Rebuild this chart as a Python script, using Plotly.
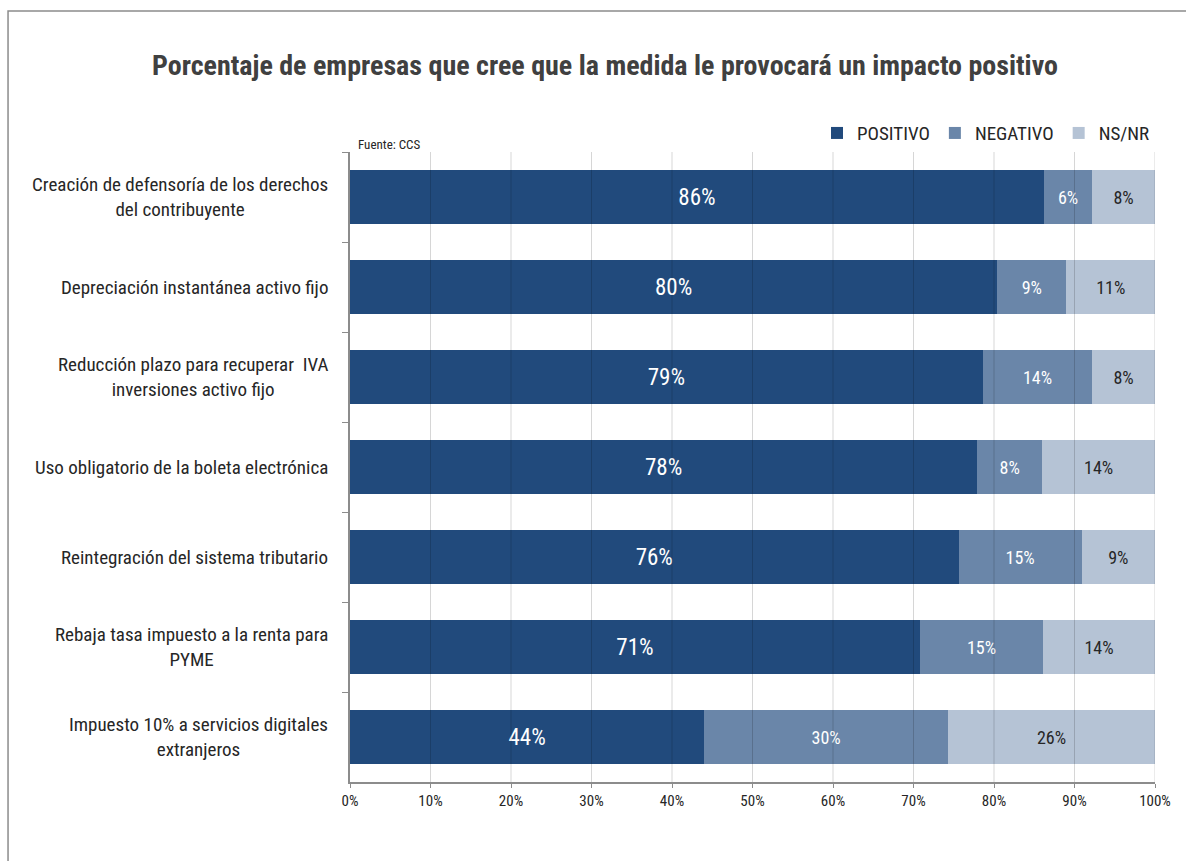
import plotly.graph_objects as go

categories = [
    "Creación de defensoría de los derechos<br>del contribuyente",
    "Depreciación instantánea activo fijo",
    "Reducción plazo para recuperar  IVA<br>inversiones activo fijo",
    "Uso obligatorio de la boleta electrónica",
    "Reintegración del sistema tributario",
    "Rebaja tasa impuesto a la renta para<br>PYME",
    "Impuesto 10% a servicios digitales<br>extranjeros",
]
positivo = [86.2, 80.4, 78.6, 77.9, 75.6, 70.8, 44.0]
negativo = [6.0, 8.6, 13.6, 8.1, 15.3, 15.3, 30.3]
nsnr = [7.8, 11.0, 7.8, 14.0, 9.1, 13.9, 25.7]
x_ticks = [0, 10, 20, 30, 40, 50, 60, 70, 80, 90, 100]

FONT = "Roboto Condensed, Roboto, Liberation Sans Narrow, sans-serif"
C_POS = "#214a7c"
C_NEG = "#6a86a9"
C_NS = "#b5c3d5"

fig = go.Figure()
series = [
    ("POSITIVO", positivo, C_POS, "white", 23),
    ("NEGATIVO", negativo, C_NEG, "white", 18),
    ("NS/NR", nsnr, C_NS, "#262626", 18),
]
for name, vals, col, tcol, tsize in series:
    fig.add_trace(go.Bar(
        name=name, y=categories, x=vals, orientation="h",
        marker=dict(color=col, line=dict(width=0)),
        text=[f"{round(v)}%" for v in vals],
        textposition="inside", insidetextanchor="middle",
        textfont=dict(color=tcol, size=tsize, family=FONT),
        constraintext="none",
        width=0.61,
    ))

# category labels, centred lines like the original
for c in categories:
    fig.add_annotation(
        x=0, xref="paper", xanchor="right", xshift=-20,
        y=c, yref="y", yanchor="middle",
        text=c, align="center", showarrow=False,
        font=dict(size=19, color="#262626", family=FONT),
    )

# grid lines drawn over the bars
for t in x_ticks[1:]:
    fig.add_shape(type="line", xref="x", yref="paper", x0=t, x1=t, y0=0, y1=1,
                  line=dict(color="rgba(0,0,0,0.16)", width=1), layer="above")

# outer frame
fig.add_shape(type="rect", xref="paper", yref="paper",
              x0=-0.4248, x1=1.2, y0=-0.3, y1=1.2238,
              line=dict(color="#8c8c8c", width=1.5), layer="below")

fig.add_annotation(
    x=0, xref="paper", xanchor="left", xshift=6,
    y=1, yref="paper", yanchor="bottom", yshift=-2,
    text="Fuente: CCS", showarrow=False,
    font=dict(size=13, color="#262626", family=FONT),
)

fig.update_layout(
    width=1186, height=861,
    barmode="stack",
    paper_bgcolor="white", plot_bgcolor="white",
    margin=dict(l=350, r=31, t=152, b=79),
    font=dict(family=FONT, color="#262626"),
    title=dict(
        text="<b>Porcentaje de empresas que cree que la medida le provocará un impacto positivo</b>",
        x=605 / 1186, xanchor="center", y=1 - 65 / 861, yanchor="middle",
        font=dict(size=28, color="#404040", family=FONT),
    ),
    legend=dict(
        orientation="h", x=1, xanchor="right", y=1.03, yanchor="middle",
        font=dict(size=19, color="#262626", family=FONT),
        traceorder="normal", itemclick=False, itemwidth=30,
    ),
    xaxis=dict(
        range=[0, 100], tickvals=x_ticks, ticktext=[f"{t}%" for t in x_ticks],
        showgrid=False, zeroline=False,
        showline=True, linecolor="#8c8c8c", linewidth=1.5,
        ticks="outside", ticklen=4, tickcolor="#8c8c8c",
        tickfont=dict(size=15, color="#262626", family=FONT),
        fixedrange=True,
    ),
    yaxis=dict(
        categoryorder="array", categoryarray=categories, autorange="reversed",
        showticklabels=False, showgrid=False, zeroline=False,
        showline=True, linecolor="#8c8c8c", linewidth=1.5,
        ticks="outside", tickson="boundaries", ticklen=6, tickcolor="#8c8c8c",
        fixedrange=True,
    ),
)

fig.write_html("out.html")
